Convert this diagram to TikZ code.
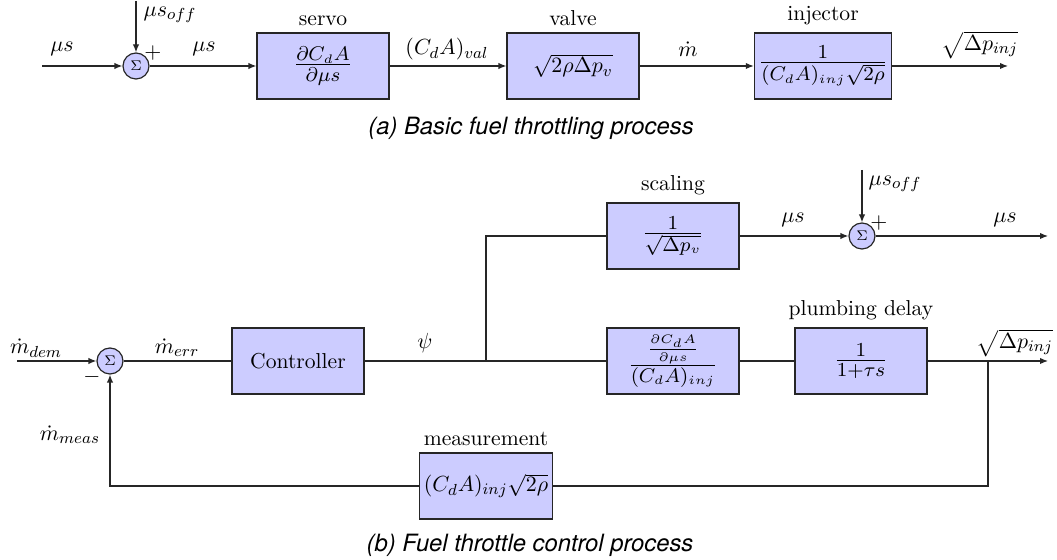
\documentclass[tikz,border=0pt]{standalone}
\usepackage{amsmath}
\usepackage{graphicx}
\usepackage{fontspec}
\newfontfamily\capfont{TeX Gyre Heros}
\usetikzlibrary{arrows.meta}
% block contents: text-style fraction, enlarged
\newcommand\bfr[2]{\scalebox{1.24}{$\frac{#1}{#2}$}}
\begin{document}
\begin{tikzpicture}[x=0.5pt,y=-0.5pt,
  blk/.style={draw=black!85, line width=0.6pt, fill=blue!20, minimum width=66pt,
    minimum height=33pt, inner sep=2pt, font=\fontsize{10.8}{13}\selectfont},
  sumc/.style={circle, draw=black!85, line width=0.6pt, fill=blue!20, minimum size=13pt,
    inner sep=0pt, font=\fontsize{7.5}{9}\selectfont},
  lbl/.style={inner sep=0pt, font=\fontsize{10.8}{13}\selectfont},
  wire/.style={line width=0.6pt, draw=black!85},
  arr/.style={wire, -{Latex[length=4pt,width=3.2pt]}},
  capt/.style={inner sep=0pt, font=\capfont\itshape\fontsize{11.9}{14}\selectfont},
  blabel/.style={label={[font=\fontsize{10.8}{13}\selectfont]above:#1}}
]
\useasboundingbox (0,0) rectangle (1057,560);

% ---------- (a) basic fuel throttling ----------
\node[sumc] (s1) at (136,66) {$\Sigma$};
\node[blk, blabel=servo] (servo) at (323,66) {\bfr{\partial C_dA}{\partial\mu s}};
\node[blk, blabel=valve] (valve) at (573,66) {$\sqrt{2\rho\Delta p_v}$};
\node[blk, blabel=injector] (inj) at (823,66) {\bfr{1}{(C_dA)_{inj}\sqrt{2\rho}}};
\coordinate (in1) at (42,66);
\coordinate (off1) at (136,1);
\coordinate (out1) at (1008,66);

\draw[arr] (in1) -- (s1);
\draw[arr] (off1) -- (s1);
\draw[arr] (s1) -- (servo);
\draw[arr] (servo) -- (valve);
\draw[arr] (valve) -- (inj);
\draw[arr] (inj) -- (out1);

\node[lbl] (la1) at (62,49) {$\mu s$};
\node[lbl] (la2) at (170,15) {$\mu s_{off}$};
\node[lbl] (la3) at (153,53) {$+$};
\node[lbl] (la4) at (204,49) {$\mu s$};
\node[lbl] (la5) at (447,49) {$(C_dA)_{val}$};
\node[lbl] (la6) at (688,49) {$\dot m$};
\node[lbl] (la7) at (980,45) {$\sqrt{\Delta p_{inj}}$};

\node[capt] (capa) at (531,128) {(a) Basic fuel throttling process};

% ---------- (b) fuel throttle control ----------
\node[sumc] (s2) at (110,361) {$\Sigma$};
\node[blk] (ctrl) at (298,361) {Controller};
\coordinate (j1) at (486,361);
\node[blk, blabel=scaling] (scal) at (673,236) {\bfr{1}{\sqrt{\Delta p_v}}};
\node[blk] (gain) at (673,361) {\bfr{\frac{\partial C_dA}{\partial\mu s}}{(C_dA)_{inj}}};
\node[blk, blabel=plumbing delay] (plumb) at (861,361) {\bfr{1}{1+\tau s}};
\node[sumc] (s3) at (862,236) {$\Sigma$};
\node[blk, blabel=measurement] (meas) at (486,486) {$(C_dA)_{inj}\sqrt{2\rho}$};
\coordinate (in2) at (17,361);
\coordinate (off2) at (862,170);
\coordinate (out3) at (1048,236);
\coordinate (j2) at (988,361);
\coordinate (out2) at (1048,361);

\draw[arr] (in2) -- (s2);
\draw[wire] (s2) -- (ctrl);
\draw[wire] (ctrl) -- (j1) -- (gain);
\draw[wire] (j1) |- (scal);
\draw[arr] (scal) -- (s3);
\draw[arr] (off2) -- (s3);
\draw[arr] (s3) -- (out3);
\draw[wire] (gain) -- (plumb);
\draw[arr] (plumb) -- (out2);
\draw[wire] (j2) |- (meas);
\draw[arr] (meas) -| (s2);

\node[lbl] (lb1) at (36,348) {$\dot m_{dem}$};
\node[lbl] (lb2) at (92,377) {$-$};
\node[lbl] (lb3) at (177,348) {$\dot m_{err}$};
\node[lbl] (lb4) at (425,343) {$\psi$};
\node[lbl] (lb5) at (793,220) {$\mu s$};
\node[lbl] (lb6) at (895,184) {$\mu s_{off}$};
\node[lbl] (lb7) at (879,223) {$+$};
\node[lbl] (lb8) at (1005,220) {$\mu s$};
\node[lbl] (lb9) at (1015,343) {$\sqrt{\Delta p_{inj}}$};
\node[lbl] (lb10) at (70,435) {$\dot m_{meas}$};

\node[capt] (capb) at (530,545) {(b) Fuel throttle control process};
\end{tikzpicture}
\end{document}
